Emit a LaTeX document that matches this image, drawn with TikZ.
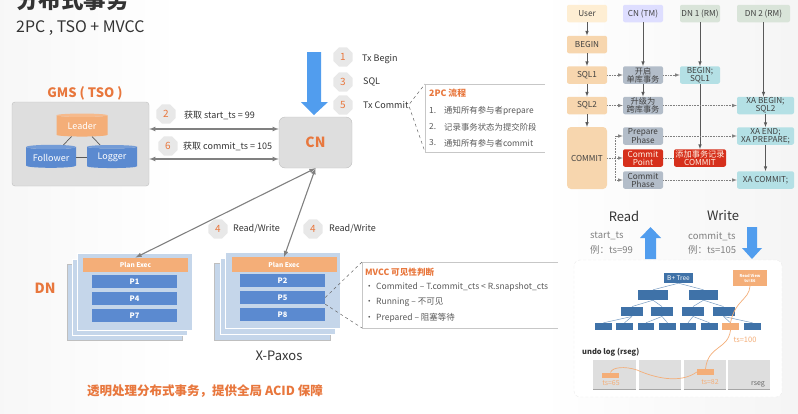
\documentclass[tikz,border=0pt]{standalone}
\usepackage{fontspec}
\setmainfont{Noto Sans CJK SC}
\usetikzlibrary{shapes.geometric}
\definecolor{accent}{HTML}{E8773D}
\definecolor{peach}{HTML}{F4AE78}
\definecolor{pblue}{HTML}{5B8AD0}
\definecolor{sheet}{HTML}{C5D6EA}
\definecolor{bigarrow}{HTML}{519DEE}
\definecolor{treeblue}{HTML}{3F72A8}
\definecolor{stepfill}{HTML}{F7D6AE}
\definecolor{gsteel}{HTML}{B3BDC9}
\definecolor{teal}{HTML}{B4E0E5}
\definecolor{alert}{HTML}{D6301C}
\begin{document}
\begin{tikzpicture}[x=1pt,y=-1pt,>=latex,
    every node/.style={inner sep=0pt,text=black!80},
    sz/.style={font=\fontsize{#1}{#1}\selectfont},
    badge/.style={regular polygon,regular polygon sides=8,minimum size=21pt,fill=black!9,text=accent,sz=10},
    lbl/.style={anchor=west,sz=9},
    graybox/.style={rounded corners=3pt,fill=black!13,draw=black!25},
    cyl/.style={cylinder,shape border rotate=90,aspect=0.12,cylinder uses custom fill,minimum width=50pt,minimum height=23pt,text=white,sz=9},
    link/.style={draw=black!50,line width=1.1pt,<->},
    sheetbox/.style={fill=sheet,draw=white,line width=0.4pt},
    planbox/.style={fill=peach,text=white,minimum width=105pt,minimum height=14.5pt,font=\fontsize{6.5}{7}\selectfont\bfseries},
    pbox/.style={fill=pblue,text=white,minimum width=85pt,minimum height=13pt,font=\fontsize{7.5}{8}\selectfont\bfseries},
    callout/.style={draw=black!22,line width=0.7pt},
    note/.style={draw=black!60,dashed,line width=0.5pt},
    flowbox/.style={rounded corners=2pt,minimum height=17.5pt,align=center,text=black!75,sz=8.2},
    hdr/.style={flowbox,minimum width=40pt},
    stepbox/.style={flowbox,fill=stepfill,minimum width=40pt},
    tmbox/.style={flowbox,fill=gsteel,minimum width=40pt},
    tealbox/.style={flowbox,fill=teal},
    redbox/.style={flowbox,fill=alert,text=white!90!orange},
    flow/.style={draw=black!65,line width=0.6pt,->},
    dots/.style={draw=black!50,line width=0.6pt,densely dotted,->},
    tree/.style={fill=treeblue},
    edge/.style={draw=treeblue!70,line width=0.5pt},
    undo/.style={fill=black!13},
    ochre/.style={draw=peach,line width=0.7pt},
    tstext/.style={text=peach,sz=7}]
    \useasboundingbox (0,0) rectangle (798,413);
    \clip (0,0) rectangle (798,413);
    % faint slide background
    \shade[left color=black!3,right color=white] (0,0) rectangle (180,413);
    \shade[left color=white,right color=black!4] (540,0) rectangle (798,413);
    % title
    \node[anchor=base west,font=\fontsize{22.5}{22.5}\selectfont\bfseries] (title) at (16,8) {分布式事务};
    \node[anchor=west,sz=15.9] (subtitle) at (16,28) {2PC , TSO + MVCC};
    % GMS
    \node[text=accent,font=\fontsize{13}{14}\selectfont\bfseries] (gmstitle) at (85,93) {GMS ( TSO )};
    \node[graybox,minimum width=137pt,minimum height=84pt] (gms) at (80.5,144) {};
    \node[cyl,cylinder body fill=peach,cylinder end fill=peach!85!white,minimum width=51pt] (leader) at (82,126) {Leader};
    \node[cyl,cylinder body fill=pblue,cylinder end fill=pblue!85!white] (follower) at (51,157.5) {Follower};
    \node[cyl,cylinder body fill=pblue,cylinder end fill=pblue!85!white] (logger) at (112,157.5) {Logger};
    \draw[black!65,line width=0.7pt] (leader) -- (follower);
    \draw[black!65,line width=0.7pt] (leader) -- (logger);
    \draw[black!65,line width=0.7pt] (follower) -- (logger);
    % CN
    \node[graybox,rounded corners=6pt,minimum width=73pt,minimum height=51pt,text=accent,font=\fontsize{14}{14}\selectfont\bfseries] (cn) at (315.5,142.5) {CN};
    \draw[link] (gms.east |- 0,129) -- (cn.west |- 0,129);
    \draw[link] (gms.east |- 0,159) -- (cn.west |- 0,159);
    \node[badge] (b2) at (166,114) {2};
    \node[lbl] (getstart) at (184,115) {获取 start\_ts = 99};
    \node[badge] (b6) at (168,146) {6};
    \node[lbl] (getcommit) at (183,146) {获取 commit\_ts = 105};
    \fill[bigarrow] (307,52) -- (321,52) -- (321,102) -- (328,102) -- (314,115) -- (301,102) -- (307,102) -- cycle;
    \node[badge] (b1) at (343,57) {1};
    \node[lbl] (txbegin) at (362,59) {Tx Begin};
    \node[badge] (b3) at (343,82) {3};
    \node[lbl] (txsql) at (363,82) {SQL};
    \node[badge] (b5) at (343,105) {5};
    \node[lbl] (txcommit) at (363,105) {Tx Commit};
    % 2PC steps
    \coordinate (twopcnw) at (425,84);
    \coordinate (twopcsw) at (425,152);
    \draw[callout] (545,84) -- (twopcnw) -- (twopcsw) -- (545,152);
    \draw[note,shorten <=2pt] (txcommit.east) -- (twopcnw);
    \draw[note,shorten <=2pt] (txcommit.east) -- (twopcsw);
    \node[lbl,text=accent,font=\fontsize{8.8}{9}\selectfont\bfseries] (twopctitle) at (429,93) {2PC 流程};
    \foreach \n/\y/\t in {1/111/通知所有参与者prepare,2/127/记录事务状态为提交阶段,3/143/通知所有参与者commit} {
        \node[lbl,sz=8.4,text=black!65] (num\n) at (429,\y) {\n.};
        \node[lbl,sz=8.4,text=black!65] (step\n) at (444,\y) {\t};
    }
    % DN stacks
    \node[text=accent,font=\fontsize{14}{14}\selectfont\bfseries] (dnlabel) at (45,288) {DN};
    \draw[sheetbox,draw=black!25] (67,264) rectangle (182,340);
    \draw[sheetbox] (72,259) rectangle (187,335);
    \draw[sheetbox] (77,253) rectangle (192,330);
    \node[planbox] (plana) at (135.5,265) {Plan Exec};
    \node[pbox] (p1) at (134.5,281.5) {P1};
    \node[pbox] (p4) at (134.5,298.5) {P4};
    \node[pbox] (p7) at (134.5,315.5) {P7};
    \draw[sheetbox,draw=black!25] (214,263) rectangle (330,340);
    \draw[sheetbox] (220,258) rectangle (335,334);
    \draw[sheetbox] (225,252) rectangle (340,328);
    \node[planbox] (planb) at (284,264.5) {Plan Exec};
    \node[pbox] (p2) at (282.5,280.5) {P2};
    \node[pbox] (p5) at (282.5,297.5) {P5};
    \node[pbox] (p8) at (282.5,314.5) {P8};
    \node[sz=13] (xpaxos) at (279,356) {X-Paxos};
    \draw[link] (cn.south) -- (plana.north);
    \draw[link] (cn.south) -- (planb.north);
    \node[badge] (b4a) at (218,229) {4};
    \node[lbl] (rwa) at (233,229) {Read/Write};
    \node[badge] (b4b) at (313,229) {4};
    \node[lbl] (rwb) at (329,229) {Read/Write};
    % MVCC visibility
    \coordinate (mvccnw) at (362,262);
    \coordinate (mvccsw) at (362,328);
    \draw[callout] (558,262) -- (mvccnw) -- (mvccsw) -- (558,328);
    \draw[note] (p5.east) -- (mvccnw);
    \draw[note] (p5.south east) -- (mvccsw);
    \node[lbl,text=accent,font=\fontsize{8.6}{9}\selectfont\bfseries] (mvcctitle) at (365,272) {MVCC 可见性判断};
    \foreach \n/\y/\t in {c/287/{Commited – T.commit\_cts < R.snapshot\_cts},r/302/{Running – 不可见},w/318/{Prepared – 阻塞等待}} {
        \node[lbl,sz=8.5,text=black!65] (dot\n) at (365,\y) {•};
        \node[lbl,sz=8.5,text=black!65] (vis\n) at (376,\y) {\t};
    }
    \node[text=accent,font=\fontsize{12.5}{13}\selectfont\bfseries] (slogan) at (205,391) {透明处理分布式事务，提供全局 ACID 保障};
    % transaction flow
    \node[hdr,fill=yellow!20!orange!15!white] (user) at (587,13.5) {User};
    \node[hdr,fill=blue!13] (cntm) at (643,13.5) {CN (TM)};
    \node[hdr,fill=green!30!black!15] (dn1) at (700,13.5) {DN 1 (RM)};
    \node[hdr,fill=green!30!black!15,minimum width=53pt] (dn2) at (763.5,13.5) {DN 2 (RM)};
    \node[stepbox] (begin) at (587,44.5) {BEGIN};
    \node[stepbox] (sql1) at (587,75) {SQL1};
    \node[stepbox] (sql2) at (587,105.5) {SQL2};
    \node[stepbox,rounded corners=4pt,minimum height=62pt] (commit) at (587,158) {COMMIT};
    \node[tmbox] (open) at (643,75) {开启\\单库事务};
    \node[tmbox] (upgrade) at (643,105.5) {升级为\\跨库事务};
    \node[tmbox] (prepare) at (643,136) {Prepare\\Phase};
    \node[redbox,minimum width=40pt] (point) at (643,158) {Commit\\Point};
    \node[tmbox] (cphase) at (643,180) {Commit\\Phase};
    \node[tealbox,minimum width=40pt] (dnbegin) at (700,75) {BEGIN;\\SQL1};
    \node[redbox,minimum width=52pt] (addrec) at (700,158) {添加事务记录\\COMMIT};
    \node[tealbox,minimum width=57pt] (xabegin) at (765.5,105.5) {XA BEGIN;\\SQL2};
    \node[tealbox,minimum width=57pt] (xaend) at (765.5,136) {XA END;\\XA PREPARE;};
    \node[tealbox,minimum width=57pt] (xacommit) at (765.5,180) {XA COMMIT;};
    \foreach \a/\b in {user/begin,begin/sql1,sql1/sql2,sql2/commit,cntm/open,open/upgrade,dn1/dnbegin,dnbegin/addrec}
        \draw[flow] (\a) -- (\b);
    \draw[flow] (dn2.south) -- (dn2.south |- xabegin.north);
    \draw[flow] (xabegin) -- (xaend);
    \draw[flow] (xaend) -- (xacommit);
    \foreach \a/\b in {sql1/open,open/dnbegin,sql2/upgrade,upgrade/xabegin,prepare/xaend,commit/point,cphase/xacommit}
        \draw[dots] (\a) -- (\b);
    \draw[dots] (commit.east) -- (615,158) |- (prepare.west);
    \draw[dots] (615,158) |- (cphase.west);
    \draw[black!50,line width=0.6pt,densely dotted] (point) -- (addrec);
    % read and write
    \node[sz=13] (readlbl) at (624,216) {Read};
    \node[sz=13] (writelbl) at (723,216) {Write};
    \node[sz=9.5,anchor=west,text=black!50] (startts) at (590,236) {start\_ts};
    \node[sz=9.5,anchor=west,text=black!50] (starteg) at (590,250) {例：ts=99};
    \node[sz=9.5,anchor=west,text=black!50] (committs) at (688,236) {commit\_ts};
    \node[sz=9.5,anchor=west,text=black!50] (commiteg) at (688,250) {例：ts=105};
    \fill[bigarrow] (645,259) -- (645,238) -- (640,238) -- (650.5,227) -- (661,238) -- (656,238) -- (656,259) -- cycle;
    \fill[bigarrow] (747,227) -- (757,227) -- (757,248) -- (762,248) -- (752,259) -- (742,248) -- (747,248) -- cycle;
    \node[fill=white,draw=black!8,densely dashed,rounded corners=6pt,minimum width=208pt,minimum height=137pt] (engine) at (678,328.5) {};
    % B+ tree
    \node[tree,text=white,minimum width=29pt,minimum height=10pt,sz=6.5] (root) at (678.5,278) {B+ Tree};
    \node[fill=peach,text=white,minimum width=34pt,minimum height=16pt,align=center,font=\fontsize{4}{5}\selectfont\bfseries] (readview) at (750,278) {Read View\\ts=86};
    \foreach \n/\x in {ta/653,tb/703.5}
        \node[tree,minimum width=29.5pt,minimum height=10pt] (\n) at (\x,295) {};
    \foreach \n/\x in {ua/632,ub/662,uc/693,ud/723.5}
        \node[tree,minimum width=22pt,minimum height=9.5pt] (\n) at (\x,311.5) {};
    \foreach \n/\x in {va/603.5,vb/624.5,vc/646,vd/667.5,ve/688,vf/709.5,vh/752.5}
        \node[tree,minimum width=16.5pt,minimum height=7pt] (\n) at (\x,326.5) {};
    \node[fill=peach,minimum width=16.5pt,minimum height=7pt] (vg) at (730.5,326.5) {};
    \foreach \a/\b in {root/ta,root/tb,ta/ua,ta/ub,tb/uc,tb/ud,ua/va,ua/vb,ub/vc,ub/vd,uc/ve,uc/vf,ud/vg,ud/vh}
        \draw[edge] (\a.south) -- (\b.north);
    \node[tstext,sz=7.5] (tshundred) at (745,340) {ts=100};
    \node[anchor=west,font=\fontsize{7.5}{8}\selectfont\bfseries] (undolbl) at (582,352) {undo log (rseg)};
    \foreach \n/\x in {sa/614.5,sb/660,sc/705,sd/749} {
        \node[undo,minimum width=42.5pt,minimum height=29pt] (\n) at (\x,374.5) {};
        \draw[black!35,line width=0.6pt] (\n.south west) -- (\n.south east);
    }
    \node[fill=peach,minimum width=17pt,minimum height=5.5pt] (undoa) at (610.5,375.5) {};
    \node[fill=peach,minimum width=17pt,minimum height=5.5pt] (undob) at (705.5,372) {};
    \node[tstext] (tsa) at (611,383) {ts=65};
    \node[tstext] (tsb) at (710,382) {ts=82};
    \node[sz=7,text=black!60] (rseg) at (758,384) {rseg};
    \draw[ochre] (readview.south) .. controls (749,300) and (735,300) .. (vg.north);
    \draw[ochre] (vg.south) .. controls (728,350) and (708,345) .. (undob.north);
    \draw[ochre] (undob.west) .. controls (680,384) and (655,378) .. (637,370) .. controls (625,366) and (612,367) .. (undoa.north);
\end{tikzpicture}
\end{document}
